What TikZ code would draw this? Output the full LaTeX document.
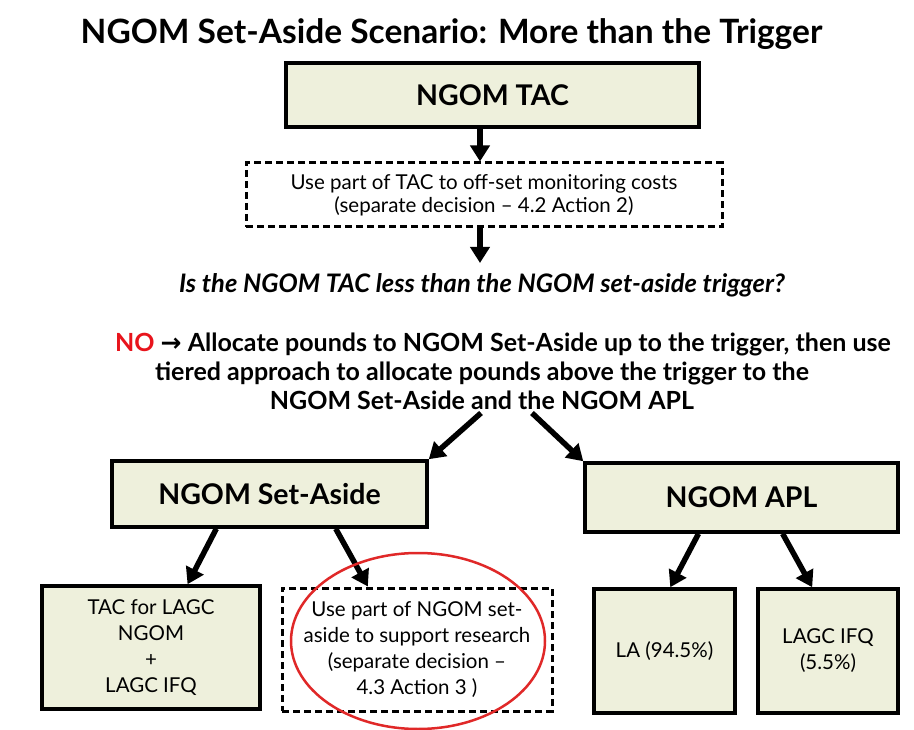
\documentclass[tikz,border=0pt]{standalone}
\usepackage{fontspec}
\setmainfont{Lato}
\newfontfamily\symfont{DejaVu Sans}
\usetikzlibrary{arrows.meta,calc,shapes.geometric}
\definecolor{boxfill}{HTML}{EEF0DC}
\definecolor{nored}{HTML}{E8141C}
\definecolor{circred}{HTML}{E02828}
\begin{document}
\begin{tikzpicture}[x=1pt,y=-1pt,
  solidbox/.style={draw=black,line width=3.5pt,fill=boxfill,inner sep=0pt,align=center},
  dashbox/.style={draw=black,line width=3pt,dash pattern=on 7pt off 4pt,fill=white,inner sep=0pt,align=center},
  arr/.style={line width=5.5pt,-{Triangle[length=16pt,width=19pt]}},
  lbl/.style={inner sep=0pt,align=center},
  bigtxt/.style={font=\fontsize{28.5}{34}\selectfont\bfseries},
  smalltxt/.style={font=\fontsize{20.5}{23}\selectfont},
  lowtxt/.style={font=\fontsize{20.5}{26}\selectfont}]
\useasboundingbox (0,0) rectangle (914,730);
\fill[white] (0,0) rectangle (914,730);

% title
\node[lbl,font=\fontsize{33.5}{38}\selectfont\bfseries] (title) at (451.5,34) {NGOM Set-Aside Scenario: More than the Trigger};

% boxes
\node[solidbox,bigtxt,minimum width=413pt,minimum height=64pt] (tac) at (492.5,95) {NGOM TAC};
\node[dashbox,smalltxt,minimum width=476pt,minimum height=64pt] (dash1) at (484,195)
  {Use part of TAC to off-set monitoring costs\\(separate decision – 4.2 Action 2)};

\node[lbl,font=\fontsize{25.5}{30}\selectfont\bfseries\itshape] (q) at (482,285)
  {Is the NGOM TAC less than the NGOM set-aside trigger?};

\node[lbl,font=\fontsize{25}{29}\selectfont\bfseries] (no) at (482,371)
  {\hspace*{42pt}{\color{nored}NO} {\symfont\bfseries →} Allocate pounds to NGOM Set-Aside up to the trigger, then use\\
   tiered approach to allocate pounds above the trigger to the\\
   NGOM Set-Aside and the NGOM APL};

\node[solidbox,bigtxt,minimum width=315pt,minimum height=66pt] (sa) at (269.5,494) {NGOM Set-Aside};
\node[solidbox,bigtxt,minimum width=313pt,minimum height=69pt] (apl) at (741.5,497.5) {NGOM APL};

\node[solidbox,lowtxt,minimum width=218pt,minimum height=123pt] (tacl) at (151,647.5)
  {TAC for LAGC\\NGOM\\+\\LAGC IFQ};
\node[dashbox,lowtxt,minimum width=270pt,minimum height=123pt] (res) at (417,649.5)
  {Use part of NGOM set-\\aside to support research\\(separate decision –\\4.3 Action 3 )};
\node[solidbox,lowtxt,minimum width=141pt,minimum height=124pt] (la) at (664.5,651) {LA (94.5\%)};
\node[solidbox,lowtxt,minimum width=140pt,minimum height=124pt] (ifq) at (828,651) {LAGC IFQ\\(5.5\%)};

% connectors
\coordinate (axis) at (480,0);
\coordinate (qtop) at (480,263);
\coordinate (s1) at (481,413);
\coordinate (s2) at (532,413);
\draw[arr] (tac.south -| axis) -- (dash1.north -| axis);
\draw[arr] (dash1.south -| axis) -- (qtop);
\draw[arr] (s1) -- (sa.north east);
\draw[arr] (s2) -- (apl.north west);
\draw[arr] ($(sa.south west)!0.333!(sa.south east)$) -- ($(tacl.north west)!0.665!(tacl.north east)$);
\draw[arr] ($(sa.south west)!0.708!(sa.south east)$) -- ($(res.north west)!0.32!(res.north east)$);
\draw[arr] ($(apl.south west)!0.364!(apl.south east)$) -- ($(la.north west)!0.54!(la.north east)$);
\draw[arr] ($(apl.south west)!0.63!(apl.south east)$) -- ($(ifq.north west)!0.39!(ifq.north east)$);

% highlight
\node[draw=circred,line width=2.5pt,ellipse,inner sep=0pt,minimum width=254pt,minimum height=176pt] (hl) at (418,641) {};
\end{tikzpicture}
\end{document}
